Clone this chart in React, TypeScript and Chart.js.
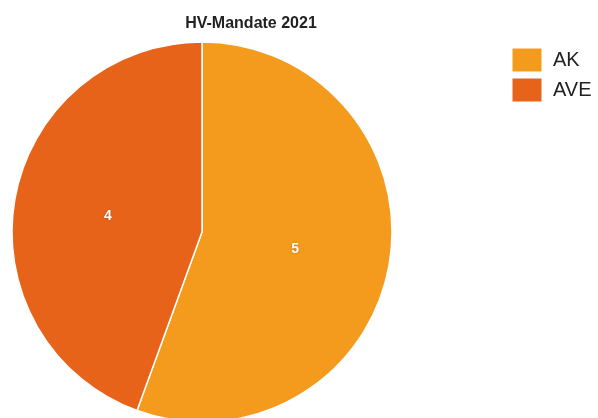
import React, { useEffect, useRef } from "react";
import { Chart, registerables } from "chart.js";

Chart.register(...registerables);

const chartTitle = "HV-Mandate 2021";
const categories = ["AK", "AVE"];
const seatValues = [5, 4];
const sliceColors = ["#F49B1E", "#E8631A"];

const overlayPlugin = {
  id: "overlay",
  afterDraw(chart: any) {
    const ctx = chart.ctx;
    ctx.save();
    // title
    ctx.fillStyle = "#222222";
    ctx.font = "bold 16px 'Liberation Sans', Arial, sans-serif";
    ctx.textAlign = "center";
    ctx.textBaseline = "middle";
    ctx.fillText(chartTitle, 251, 24);

    // value labels
    const meta = chart.getDatasetMeta(0);
    ctx.font = "bold 14px 'Liberation Sans', Arial, sans-serif";
    ctx.fillStyle = "#ffffff";
    ctx.shadowColor = "rgba(0,0,0,0.25)";
    ctx.shadowBlur = 2;
    meta.data.forEach((arc: any, i: number) => {
      const p = arc.getCenterPoint();
      ctx.fillText(String(seatValues[i]), p.x - 0.5, p.y + 1);
    });
    ctx.shadowColor = "transparent";
    ctx.shadowBlur = 0;

    // legend
    ctx.font = "20px 'Liberation Sans', Arial, sans-serif";
    ctx.textAlign = "left";
    categories.forEach((c, i) => {
      const y = 48.5 + i * 30;
      ctx.fillStyle = sliceColors[i];
      ctx.fillRect(512.5, y, 29, 23);
      ctx.fillStyle = "#222222";
      ctx.fillText(c, 553, y + 11.5);
    });
    ctx.restore();
  },
};

export default function App() {
  const ref = useRef<HTMLCanvasElement | null>(null);
  useEffect(() => {
    if (!ref.current) return;
    const chart = new Chart(ref.current, {
      type: "pie",
      data: {
        labels: categories,
        datasets: [
          {
            data: seatValues,
            backgroundColor: sliceColors,
            borderColor: "#ffffff",
            borderWidth: 1.5,
            hoverOffset: 0,
          },
        ],
      },
      options: {
        animation: false,
        responsive: false,
        radius: 190,
        layout: { padding: { left: 12, right: 206, top: 42, bottom: 18 } },
        plugins: {
          legend: { display: false },
          title: { display: false },
          tooltip: { enabled: false },
        },
      } as any,
      plugins: [overlayPlugin],
    });
    return () => chart.destroy();
  }, []);
  return (
    <div
      style={{
        position: "fixed",
        left: 0,
        top: 0,
        width: 598,
        height: 418,
        overflow: "hidden",
        background: "#ffffff",
      }}
    >
      <canvas ref={ref} width={598} height={440} style={{ display: "block" }} />
    </div>
  );
}
